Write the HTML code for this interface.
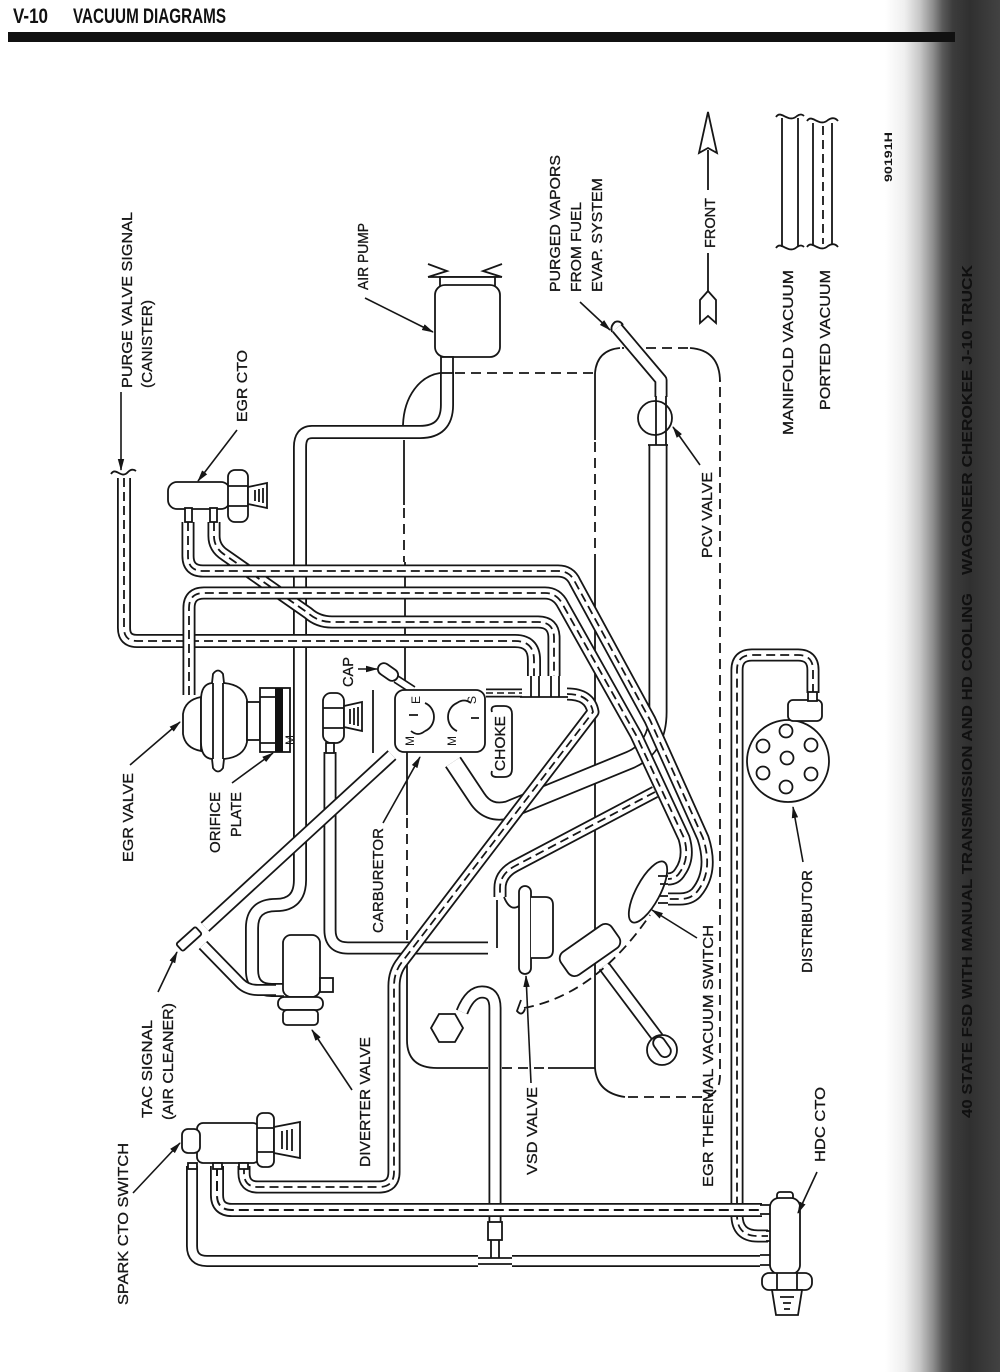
<!DOCTYPE html>
<html><head><meta charset="utf-8"><title>V-10 Vacuum Diagrams</title>
<style>
html,body{margin:0;padding:0;background:#fff;}
svg{display:block;}
.l{fill:none;stroke:#161616;stroke-width:1.8;}
.d{fill:none;stroke:#161616;stroke-width:1.8;stroke-dasharray:10 6;}
.lf{fill:#fff;stroke:#161616;stroke-width:1.8;}
.ar{fill:none;stroke:#161616;stroke-width:1.6;marker-end:url(#ah);}
.t{font-family:"Liberation Sans",sans-serif;font-size:15px;fill:#161616;stroke:#161616;stroke-width:0.3;}
.s{font-family:"Liberation Sans",sans-serif;font-size:12px;fill:#161616;}
</style></head>
<body>
<svg width="1000" height="1372" viewBox="0 0 1000 1372" xmlns="http://www.w3.org/2000/svg">
<defs>
<linearGradient id="strip" gradientUnits="userSpaceOnUse" x1="885" y1="0" x2="1000" y2="0">
<stop offset="0" stop-color="#ffffff"/>
<stop offset="0.17" stop-color="#efefef"/>
<stop offset="0.30" stop-color="#c8c8c8"/>
<stop offset="0.42" stop-color="#8c8c8c"/>
<stop offset="0.50" stop-color="#5a5a5a"/>
<stop offset="0.59" stop-color="#3c3c3c"/>
<stop offset="0.74" stop-color="#303030"/>
<stop offset="1" stop-color="#424242"/>
</linearGradient>
<marker id="ah" markerUnits="userSpaceOnUse" markerWidth="12" markerHeight="8" refX="11" refY="4" orient="auto" viewBox="0 0 12 8"><path d="M0,0.8 L12,4 L0,7.2 Z" fill="#161616"/></marker>

<path id="tPurge" d="M124,478 V628 Q124,641 137,641 H515 Q534,641 534,660 V676"/>
<path id="tCtoR" d="M214,522 V536 Q214,548 225,555 L308,613 Q318,622 332,622 H538 Q554,622 554,638 V676"/>
<path id="tA" d="M188,522 V556 Q188,571 203,571 H558 Q570,571 575,582 L650,720 L703,838 Q714,872 696,893 Q690,899 680,899 H668"/>
<path id="tB" d="M189,695 V608 Q189,593 204,593 H545 Q557,593 563,605 L636,735 L684,838 Q690,858 680,872 Q676,879 668,879"/>
<path id="tVsd" d="M655,792 L515,866 Q500,874 500,888 V897"/>
<path id="tSpark" d="M567,694 Q590,694 593,712 L402,962 Q394,972 394,986 V1172 Q394,1187 379,1187 H258 Q244,1187 244,1173 V1166"/>
<path id="tBotP" d="M217,1166 V1195 Q217,1210 232,1210 H762"/>
<path id="tDist" d="M813,693 V670 Q813,655 798,655 H752 Q737,655 737,670 V1215 Q737,1236 758,1236 H768"/>
<path id="tChoke" d="M486,693 H522"/>
<path id="tAir" d="M447,372 V405 Q447,432 420,432 H312 Q300,432 300,447 V880 Q300,905 276,905 Q252,905 252,928 V970 Q252,990 272,990 H284"/>
<path id="tTac" d="M392,755 L205,927"/>
<path id="tTacB" d="M203,945 L240,983 Q247,990 258,990 H276"/>
<path id="tHex" d="M330,752 V930 Q330,948 348,948 H488"/>
<path id="tVsdPipe" d="M462,1012 Q470,992 482,992 Q495,992 495,1008 V1240"/>
<path id="tLow" d="M192,1166 V1246 Q192,1261 207,1261 H478 M512,1261 H760"/>
<path id="tBig" d="M658,445 V712 Q658,748 630,760 L508,810 Q488,815 477,798 L453,762"/>
<path id="tVap" d="M617,328 L661,380 V397"/>
<path id="tStem" d="M604,966 L658,1038"/>
<path id="tCap" d="M396,679 L413,690"/>
</defs>

<rect x="0" y="0" width="1000" height="1372" fill="#fff"/>
<rect x="885" y="0" width="115" height="1372" fill="url(#strip)"/>

<text x="13" y="23" font-family="Liberation Sans, sans-serif" font-weight="bold" font-size="21" fill="#111" textLength="35" lengthAdjust="spacingAndGlyphs">V-10</text>
<text x="73" y="23" font-family="Liberation Sans, sans-serif" font-weight="bold" font-size="21" fill="#111" textLength="153" lengthAdjust="spacingAndGlyphs">VACUUM DIAGRAMS</text>
<rect x="8" y="32" width="947" height="10" fill="#111"/>

<text transform="translate(972,575) rotate(-90)" font-family="Liberation Sans, sans-serif" font-weight="bold" font-size="15" fill="#101010" textLength="310" lengthAdjust="spacingAndGlyphs">WAGONEER  CHEROKEE  J-10 TRUCK</text>
<text transform="translate(972,1118) rotate(-90)" font-family="Liberation Sans, sans-serif" font-weight="bold" font-size="15" fill="#101010" textLength="525" lengthAdjust="spacingAndGlyphs">40 STATE FSD WITH MANUAL TRANSMISSION AND HD COOLING</text>

<path class="l" d="M440,373 C420,376 404,396 403,425"/>
<path class="l" d="M404,440 V505"/>
<path class="d" d="M404,508 V562"/>
<path class="l" d="M405,562 V690"/>
<path class="l" d="M407,752 V815"/>
<path class="d" d="M407,818 V943"/>
<path class="l" d="M407,946 V1040 Q407,1068 437,1068 H488"/>
<path class="d" d="M502,1068 H548"/>
<path class="l" d="M548,1068 H595"/>
<path class="d" d="M455,373 H594"/>
<path class="l" d="M595,373 V440"/>
<path class="d" d="M595,442 V560"/>
<path class="l" d="M595,560 V1068 Q597,1093 625,1097"/>
<path class="d" d="M628,1097 H700 Q720,1097 720,1075 V380"/>
<path class="l" d="M720,382 Q720,350 690,348"/>
<path class="d" d="M688,348 H622"/>
<path class="l" d="M620,348 Q597,350 595,373"/>
<path class="l" d="M373,690 V753"/>
<path class="l" d="M497,900 V948"/>

<g fill="none" stroke-linejoin="round">
<use href="#tAir" stroke="#161616" stroke-width="14"/><use href="#tAir" stroke="#fff" stroke-width="10.4"/>
<use href="#tHex" stroke="#161616" stroke-width="13"/><use href="#tHex" stroke="#fff" stroke-width="9.4"/>
<use href="#tBig" stroke="#161616" stroke-width="19"/><use href="#tBig" stroke="#fff" stroke-width="15.4"/>
<use href="#tTac" stroke="#161616" stroke-width="13"/><use href="#tTac" stroke="#fff" stroke-width="9.4"/>
<use href="#tTacB" stroke="#161616" stroke-width="12"/><use href="#tTacB" stroke="#fff" stroke-width="8.4"/>
<use href="#tVsdPipe" stroke="#161616" stroke-width="13"/><use href="#tVsdPipe" stroke="#fff" stroke-width="9.4"/>
<use href="#tLow" stroke="#161616" stroke-width="12"/><use href="#tLow" stroke="#fff" stroke-width="8.4"/>
<use href="#tVap" stroke="#161616" stroke-width="13"/><use href="#tVap" stroke="#fff" stroke-width="9.4"/>
<use href="#tStem" stroke="#161616" stroke-width="13"/><use href="#tStem" stroke="#fff" stroke-width="9.4"/>
<use href="#tCap" stroke="#161616" stroke-width="9"/><use href="#tCap" stroke="#fff" stroke-width="5.6"/>
</g>
<path class="l" d="M648,445 H668"/>
<path class="l" d="M478,1258 H512 M478,1264 H512 M491,1240 V1258 M499,1240 V1258"/>
<rect x="488" y="1222" width="14" height="18" class="lf"/>

<g fill="none" stroke-linejoin="round">
<use href="#tPurge" stroke="#161616" stroke-width="14"/><use href="#tPurge" stroke="#fff" stroke-width="10.4"/><use href="#tPurge" stroke="#161616" stroke-width="1.8" stroke-dasharray="9 5"/>
<use href="#tCtoR" stroke="#161616" stroke-width="13"/><use href="#tCtoR" stroke="#fff" stroke-width="9.4"/><use href="#tCtoR" stroke="#161616" stroke-width="1.8" stroke-dasharray="9 5"/>
<use href="#tB" stroke="#161616" stroke-width="13"/><use href="#tB" stroke="#fff" stroke-width="9.4"/><use href="#tB" stroke="#161616" stroke-width="1.8" stroke-dasharray="9 5"/>
<use href="#tA" stroke="#161616" stroke-width="13"/><use href="#tA" stroke="#fff" stroke-width="9.4"/><use href="#tA" stroke="#161616" stroke-width="1.8" stroke-dasharray="9 5"/>
<use href="#tVsd" stroke="#161616" stroke-width="13"/><use href="#tVsd" stroke="#fff" stroke-width="9.4"/><use href="#tVsd" stroke="#161616" stroke-width="1.8" stroke-dasharray="9 5"/>
<use href="#tSpark" stroke="#161616" stroke-width="13"/><use href="#tSpark" stroke="#fff" stroke-width="9.4"/><use href="#tSpark" stroke="#161616" stroke-width="1.8" stroke-dasharray="9 5"/>
<use href="#tDist" stroke="#161616" stroke-width="13"/><use href="#tDist" stroke="#fff" stroke-width="9.4"/><use href="#tDist" stroke="#161616" stroke-width="1.8" stroke-dasharray="9 5"/>
<use href="#tBotP" stroke="#161616" stroke-width="14"/><use href="#tBotP" stroke="#fff" stroke-width="10.4"/><use href="#tBotP" stroke="#161616" stroke-width="2" stroke-dasharray="10 5"/>
<use href="#tChoke" stroke="#161616" stroke-width="9"/><use href="#tChoke" stroke="#fff" stroke-width="5.6"/><use href="#tChoke" stroke="#161616" stroke-width="1.4" stroke-dasharray="7 4"/>
</g>

<path class="l" d="M520,697 H568 M531,676 V697 M539,676 V697 M551,676 V697 M559,676 V697"/>
<path class="l" d="M111,474 C116,466 121,480 128,472 Q132,468 136,471"/>

<rect x="168" y="482" width="62" height="27" rx="9" class="lf"/>
<rect x="228" y="470" width="20" height="52" rx="7" class="lf"/>
<path class="l" d="M228,486 H248 M228,506 H248"/>
<path d="M248,487 L267,483 V508 L248,504 Z" class="lf"/>
<path class="l" d="M255,490 V501 M259,489 V502 M263,488 V503"/>
<rect x="185" y="508" width="7" height="14" class="lf"/>
<rect x="210" y="508" width="7" height="14" class="lf"/>

<path d="M201,697 Q185,700 183,714 V734 Q185,748 201,751 Z" class="lf"/>
<path d="M201,700 Q201,684 212,683 L213,674 Q218,667 223,674 L224,683 Q244,685 247,700 V742 Q244,757 224,759 L223,768 Q218,775 213,768 L212,759 Q201,758 201,742 Z" class="lf"/>
<path class="l" d="M213,683 V759 M223,683 V759"/>
<rect x="247" y="702" width="13" height="38" class="lf"/>
<rect x="260" y="688" width="30" height="64" class="lf"/>
<path class="l" d="M260,697 H275 M260,743 H275"/>
<rect x="275" y="688" width="8" height="64" fill="#111"/>
<text class="s" transform="translate(294,745) rotate(-90)">M</text>

<rect x="323" y="693" width="21" height="50" rx="8" class="lf"/>
<path class="l" d="M323,708 H344 M323,728 H344"/>
<path d="M344,706 L362,702 V731 L344,727 Z" class="lf"/>
<path class="l" d="M350,709 V724 M354,708 V725 M358,707 V726"/>
<rect x="326" y="743" width="8" height="10" class="lf"/>

<rect x="377" y="666" width="22" height="12" rx="6" class="lf" transform="rotate(35 388 672)"/>

<rect x="395" y="690" width="90" height="62" rx="9" class="lf"/>
<path class="l" d="M425,703 A14,15 0 0,1 425,731 M411,731 Q418,737 425,731 M409,715 H418"/>
<path class="l" d="M457,703 A14,15 0 0,0 457,731 M457,703 Q464,698 471,703 M471,718 H479"/>
<text class="s" transform="translate(420,700) rotate(-90)" text-anchor="middle">E</text>
<text class="s" transform="translate(476,700) rotate(-90)" text-anchor="middle">S</text>
<text class="s" transform="translate(414,741) rotate(-90)" text-anchor="middle">M</text>
<text class="s" transform="translate(456,741) rotate(-90)" text-anchor="middle">M</text>
<path class="l" d="M492,712 Q490,706 497,706 H504 Q512,706 512,714 V769 Q512,777 504,777 H497 Q490,777 492,771"/>

<path class="l" d="M428,264 L447,271 L428,277 M502,264 L483,271 L502,277 M428,277 H502"/>
<rect x="440" y="277" width="55" height="9" class="lf"/>
<rect x="435" y="285" width="65" height="72" rx="10" class="lf"/>
<rect x="441" y="357" width="12" height="16" class="lf"/>

<circle cx="655" cy="418" r="17" class="lf"/>
<path class="l" d="M656,396 V445 M666,396 V445"/>
<path class="l" d="M612,332 Q610,326 615,322 Q620,320 623,325"/>

<rect x="283" y="935" width="37" height="62" rx="8" class="lf"/>
<rect x="320" y="978" width="13" height="14" class="lf"/>
<rect x="278" y="997" width="45" height="13" rx="6" class="lf"/>
<rect x="283" y="1010" width="35" height="15" rx="4" class="lf"/>
<rect x="176" y="934" width="26" height="10" rx="2" class="lf" transform="rotate(-42 189 939)"/>

<rect x="197" y="1123" width="62" height="40" rx="6" class="lf"/>
<rect x="182" y="1129" width="18" height="24" rx="6" class="lf"/>
<rect x="257" y="1113" width="17" height="54" rx="6" class="lf"/>
<path class="l" d="M257,1128 H274 M257,1152 H274"/>
<path d="M274,1127 L300,1122 V1158 L274,1153 Z" class="lf"/>
<path class="l" d="M282,1131 V1149 M287,1130 V1150 M292,1129 V1151"/>
<rect x="188" y="1163" width="9" height="6" class="lf"/>
<rect x="213" y="1163" width="9" height="6" class="lf"/>
<rect x="239" y="1163" width="9" height="6" class="lf"/>

<rect x="519" y="886" width="12" height="88" rx="6" class="lf"/>
<path d="M531,897 H545 Q553,897 553,905 V950 Q553,958 545,958 H531" class="lf"/>
<path class="l" d="M504,897 Q510,912 519,906"/>
<polygon points="463,1028 455,1042 439,1042 431,1028 439,1014 455,1014" class="lf"/>

<ellipse cx="648" cy="892" rx="34" ry="12" transform="rotate(-62 648 892)" class="lf"/>
<path class="l" d="M658,876 H668 M660,884 H668 M660,896 H668 M658,903 H668"/>
<rect x="559" y="936" width="62" height="28" rx="8" class="lf" transform="rotate(-35 590 950)"/>
<circle cx="662" cy="1050" r="15" class="lf"/>
<rect x="656" y="1036" width="12" height="22" rx="6" class="lf" transform="rotate(-35 662 1047)"/>
<path class="d" d="M524,1008 Q595,995 650,915"/>
<path class="l" d="M521,1000 L517,1011 Q522,1017 525,1009"/>

<circle cx="788" cy="761" r="41" class="lf"/>
<rect x="788" y="700" width="34" height="21" rx="5" class="lf"/>
<rect x="808" y="692" width="9" height="9" class="lf"/>
<g class="lf"><circle cx="786" cy="731" r="6.5"/><circle cx="763" cy="746" r="6.5"/><circle cx="811" cy="745" r="6.5"/><circle cx="787" cy="758" r="6.5"/><circle cx="763" cy="773" r="6.5"/><circle cx="811" cy="774" r="6.5"/><circle cx="786" cy="787" r="6.5"/></g>

<rect x="777" y="1192" width="16" height="10" rx="3" class="lf"/>
<rect x="770" y="1198" width="30" height="76" rx="9" class="lf"/>
<rect x="762" y="1273" width="50" height="17" rx="7" class="lf"/>
<path class="l" d="M777,1273 V1290 M797,1273 V1290"/>
<path d="M772,1290 H802 L798,1315 H776 Z" class="lf"/>
<path class="l" d="M780,1297 H794 M783,1303 H791 M784,1309 H790"/>
<path class="l" d="M760,1205 H770 M760,1214 H770 M766,1231 H770 M766,1241 H770 M760,1255 H770 M760,1265 H770"/>

<path d="M708,112 L717,153 L708,148 L699,153 Z" class="lf"/>
<path class="l" d="M708,150 V190 M708,253 V292"/>
<path d="M708,291 L716,300 V323 L708,316 L700,323 V300 Z" class="lf"/>

<path class="l" d="M782,118 V247 M798,118 V247"/>
<path class="l" d="M776,117 C781,109 788,124 797,116 Q801,113 804,116"/>
<path class="l" d="M776,248 C781,240 788,255 797,247 Q801,244 804,247"/>
<path class="l" d="M813,123 V245 M832,123 V245"/>
<path class="d" d="M823,126 V244" style="stroke-dasharray:9 5"/>
<path class="l" d="M807,121 C812,113 819,128 828,120 Q834,116 838,121"/>
<path class="l" d="M807,247 C812,239 819,254 828,246 Q834,242 838,247"/>

<path class="ar" d="M121,392 V470"/>
<path class="ar" d="M237,430 L198,481"/>
<path class="ar" d="M365,298 L433,332"/>
<path class="ar" d="M580,302 L610,330"/>
<path class="ar" d="M700,465 L673,427"/>
<path class="ar" d="M130,765 L180,722"/>
<path class="ar" d="M232,783 L273,753"/>
<path class="ar" d="M358,669 H377"/>
<path class="ar" d="M383,823 L420,757"/>
<path class="ar" d="M158,992 L177,952"/>
<path class="ar" d="M133,1193 L180,1143"/>
<path class="ar" d="M352,1090 L312,1030"/>
<path class="ar" d="M531,1083 L526,976"/>
<path class="ar" d="M697,938 L652,910"/>
<path class="ar" d="M803,862 L793,807"/>
<path class="ar" d="M817,1172 L798,1213"/>

<g class="t">
<text transform="translate(132,388) rotate(-90)" textLength="176" lengthAdjust="spacingAndGlyphs">PURGE VALVE SIGNAL</text>
<text transform="translate(152,388) rotate(-90)" textLength="88" lengthAdjust="spacingAndGlyphs">(CANISTER)</text>
<text transform="translate(247,422) rotate(-90)" textLength="72" lengthAdjust="spacingAndGlyphs">EGR CTO</text>
<text transform="translate(368,290) rotate(-90)" textLength="67" lengthAdjust="spacingAndGlyphs">AIR PUMP</text>
<text transform="translate(560,292) rotate(-90)" textLength="137" lengthAdjust="spacingAndGlyphs">PURGED VAPORS</text>
<text transform="translate(581,292) rotate(-90)" textLength="90" lengthAdjust="spacingAndGlyphs">FROM FUEL</text>
<text transform="translate(602,292) rotate(-90)" textLength="114" lengthAdjust="spacingAndGlyphs">EVAP.  SYSTEM</text>
<text transform="translate(715,248) rotate(-90)" textLength="50" lengthAdjust="spacingAndGlyphs">FRONT</text>
<text transform="translate(793,435) rotate(-90)" textLength="165" lengthAdjust="spacingAndGlyphs">MANIFOLD VACUUM</text>
<text transform="translate(830,410) rotate(-90)" textLength="140" lengthAdjust="spacingAndGlyphs">PORTED VACUUM</text>
<text transform="translate(712,558) rotate(-90)" textLength="86" lengthAdjust="spacingAndGlyphs">PCV VALVE</text>
<text transform="translate(353,687) rotate(-90)" textLength="30" lengthAdjust="spacingAndGlyphs">CAP</text>
<text transform="translate(220,853) rotate(-90)" textLength="61" lengthAdjust="spacingAndGlyphs">ORIFICE</text>
<text transform="translate(241,837) rotate(-90)" textLength="45" lengthAdjust="spacingAndGlyphs">PLATE</text>
<text transform="translate(383,933) rotate(-90)" textLength="105" lengthAdjust="spacingAndGlyphs">CARBURETOR</text>
<text transform="translate(505,771) rotate(-90)" textLength="55" lengthAdjust="spacingAndGlyphs">CHOKE</text>
<text transform="translate(133,862) rotate(-90)" textLength="89" lengthAdjust="spacingAndGlyphs">EGR VALVE</text>
<text transform="translate(152,1118) rotate(-90)" textLength="98" lengthAdjust="spacingAndGlyphs">TAC SIGNAL</text>
<text transform="translate(173,1120) rotate(-90)" textLength="117" lengthAdjust="spacingAndGlyphs">(AIR CLEANER)</text>
<text transform="translate(128,1305) rotate(-90)" textLength="162" lengthAdjust="spacingAndGlyphs">SPARK CTO SWITCH</text>
<text transform="translate(370,1167) rotate(-90)" textLength="130" lengthAdjust="spacingAndGlyphs">DIVERTER VALVE</text>
<text transform="translate(537,1175) rotate(-90)" textLength="88" lengthAdjust="spacingAndGlyphs">VSD VALVE</text>
<text transform="translate(713,1187) rotate(-90)" textLength="262" lengthAdjust="spacingAndGlyphs">EGR THERMAL VACUUM SWITCH</text>
<text transform="translate(825,1162) rotate(-90)" textLength="75" lengthAdjust="spacingAndGlyphs">HDC CTO</text>
<text transform="translate(812,973) rotate(-90)" textLength="103" lengthAdjust="spacingAndGlyphs">DISTRIBUTOR</text>
</g>
<text transform="translate(892,182) rotate(-90)" font-family="Liberation Sans, sans-serif" font-weight="bold" font-size="11" fill="#161616" textLength="50" lengthAdjust="spacingAndGlyphs">90191H</text>
</svg>
</body></html>
